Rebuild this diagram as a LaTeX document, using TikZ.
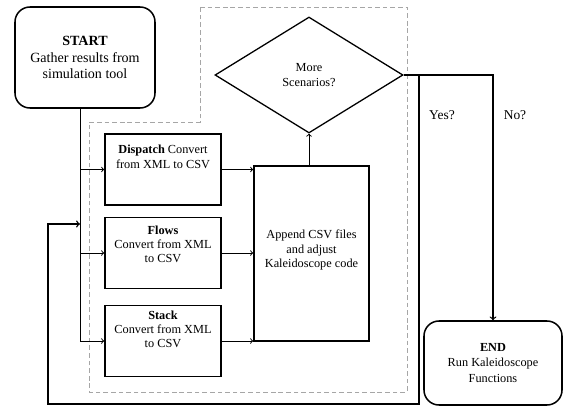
\documentclass[tikz,border=0pt]{standalone}
\usepackage{fontspec}
\setmainfont{Liberation Serif}
\usetikzlibrary{shapes.geometric, positioning}
\tikzset{
    procbox/.style={draw=black, line width=1.4pt, minimum width=3.48cm, minimum height=2.13cm},
    termbox/.style={draw=black, line width=1.3pt, rounded corners=0.45cm, align=center},
    boxtext/.style={align=center, inner sep=0pt, font=\fontsize{10.5}{12}\selectfont},
    flow/.style={->, line width=0.8pt},
}

\begin{document}
\begin{tikzpicture}[x=0.03cm, y=0.03cm]
    \newcommand\colA{163}
    \newcommand\colB{311.5}
    \newcommand\splitX{80}

    \useasboundingbox (0,0) rectangle (563,406);

    % dashed region round the loop body
    \draw[gray!70, line width=0.6pt, dash pattern=on 4pt off 2.5pt] (200,399) -- (407,399) -- (407,14) -- (89,14) -- (89,284) -- (200,284) -- cycle;

    \node[termbox, minimum width=4.2cm, minimum height=3.03cm, font=\fontsize{12}{14}\selectfont] (start) at (85,348.5) {\textbf{START}\\Gather results from\\simulation tool};
    \node[draw=black, line width=1.1pt, shape=diamond, minimum width=5.64cm, minimum height=3.48cm, inner sep=0pt, align=center, font=\fontsize{10.5}{12.5}\selectfont] (scen) at (309,331) {More\\Scenarios?};

    \node[procbox] (dispatch) at (\colA, 236.5) {};
    \node[procbox] (flows) at (\colA, 153) {};
    \node[procbox] (stack) at (\colA, 65) {};
    \node[procbox, minimum width=3.45cm, minimum height=5.25cm] (append) at (\colB, 152.5) {};
    \node[termbox, minimum width=4.14cm, minimum height=2.52cm, font=\fontsize{10.5}{13}\selectfont] (finish) at (493,43) {\textbf{END}\\Run Kaleidoscope\\Functions};

    \node[boxtext, below=0.36cm of dispatch.north] (dispatchtxt) {\textbf{Dispatch} Convert\\from XML to CSV};
    \node[boxtext, below=0.27cm of flows.north] (flowstxt) {\textbf{Flows}\\Convert from XML\\to CSV};
    \node[boxtext, below=0.17cm of stack.north] (stacktxt) {\textbf{Stack}\\Convert from XML\\to CSV};
    \node[boxtext] (appendtxt) at (\colB, 156) {Append CSV files\\and adjust\\Kaleidoscope code};

    \node[font=\fontsize{11.5}{13}\selectfont] (yeslab) at (442,291) {Yes?};
    \node[font=\fontsize{11.5}{13}\selectfont] (nolab) at (515,291) {No?};

    \coordinate (split) at (\splitX, 0);
    \coordinate (yes) at (419, 331);
    \coordinate (corner) at (48, 2);
    \coordinate (back) at (\splitX, 182);

    \draw[flow] (start.south -| split) |- (stack.west);
    \draw[flow] (split |- dispatch.west) -- (dispatch.west);
    \draw[flow] (split |- flows.west) -- (flows.west);

    \draw[flow] (dispatch.east) -- (dispatch.east -| append.west);
    \draw[flow] (flows.east) -- (flows.east -| append.west);
    \draw[flow] (stack.east) -- (stack.east -| append.west);

    \draw[flow] (append.north -| scen.south) -- (scen.south);
    \draw[flow, line width=1.1pt] (scen.east) -| (finish.north);
    \draw[flow, line width=1.2pt] (yes) |- (corner) |- (back);
\end{tikzpicture}
\end{document}
